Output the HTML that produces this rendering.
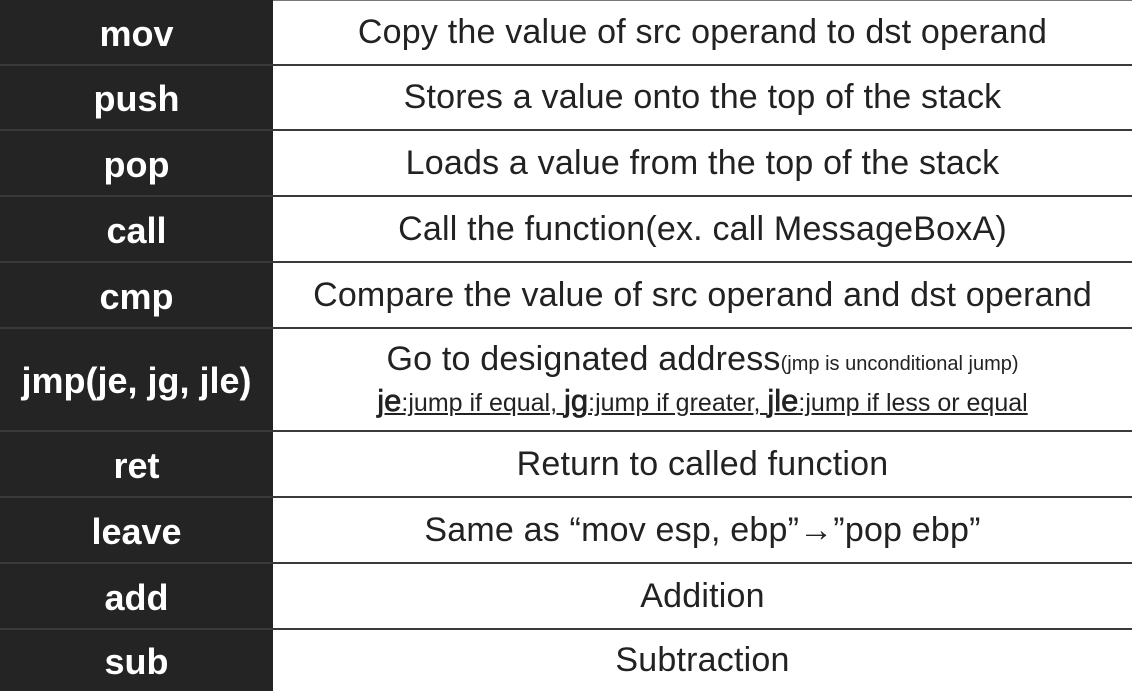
<!DOCTYPE html>
<html><head><style>
body{margin:0;width:1132px;height:691px;overflow:hidden;background:#fff;font-family:"Liberation Sans",sans-serif;position:relative}
.l{position:absolute;left:0;width:273px;background:#242424;color:#fff;font-weight:bold;font-size:36px;display:flex;align-items:center;justify-content:center;padding-top:3px;box-sizing:border-box}
.r{position:absolute;left:273px;width:859px;color:#222;font-size:34px;display:flex;flex-direction:column;align-items:center;justify-content:center;text-align:center;white-space:nowrap;letter-spacing:0.2px}
.h{position:absolute;left:0;width:1132px;height:2px;background:#3a3a3a}
.hr{position:absolute;left:273px;width:859px;height:1px;background:#777;top:0}
.s{font-size:20px;letter-spacing:0}
.u{text-decoration:underline;font-size:25px;margin-top:4px;letter-spacing:0}
.u b{font-size:31px;font-weight:normal;-webkit-text-stroke:0.7px #222}
</style></head><body>
<div class="hr"></div>
<div class="l" style="top:0;height:65px">mov</div><div class="r" style="top:0;height:65px">Copy the value of src operand to dst operand</div>
<div class="l" style="top:65px;height:65px">push</div><div class="r" style="top:65px;height:65px">Stores a value onto the top of the stack</div>
<div class="l" style="top:130px;height:66px">pop</div><div class="r" style="top:130px;height:66px">Loads a value from the top of the stack</div>
<div class="l" style="top:196px;height:66px">call</div><div class="r" style="top:196px;height:66px">Call the function(ex. call MessageBoxA)</div>
<div class="l" style="top:262px;height:66px">cmp</div><div class="r" style="top:262px;height:66px">Compare the value of src operand and dst operand</div>
<div class="l" style="top:328px;height:103px">jmp(je, jg, jle)</div><div class="r" style="top:328px;height:103px"><div>Go to designated address<span class="s">(jmp is unconditional jump)</span></div><div class="u"><b>je</b>:jump if equal, <b>jg</b>:jump if greater, <b>jle</b>:jump if less or equal</div></div>
<div class="l" style="top:431px;height:66px">ret</div><div class="r" style="top:431px;height:66px">Return to called function</div>
<div class="l" style="top:497px;height:66px">leave</div><div class="r" style="top:497px;height:66px">Same as “mov esp, ebp”→”pop ebp”</div>
<div class="l" style="top:563px;height:66px">add</div><div class="r" style="top:563px;height:66px">Addition</div>
<div class="l" style="top:629px;height:62px">sub</div><div class="r" style="top:629px;height:62px">Subtraction</div>
<div class="h" style="top:64px"></div><div class="h" style="top:129px"></div><div class="h" style="top:195px"></div><div class="h" style="top:261px"></div><div class="h" style="top:327px"></div><div class="h" style="top:430px"></div><div class="h" style="top:496px"></div><div class="h" style="top:562px"></div><div class="h" style="top:628px"></div>
</body></html>
